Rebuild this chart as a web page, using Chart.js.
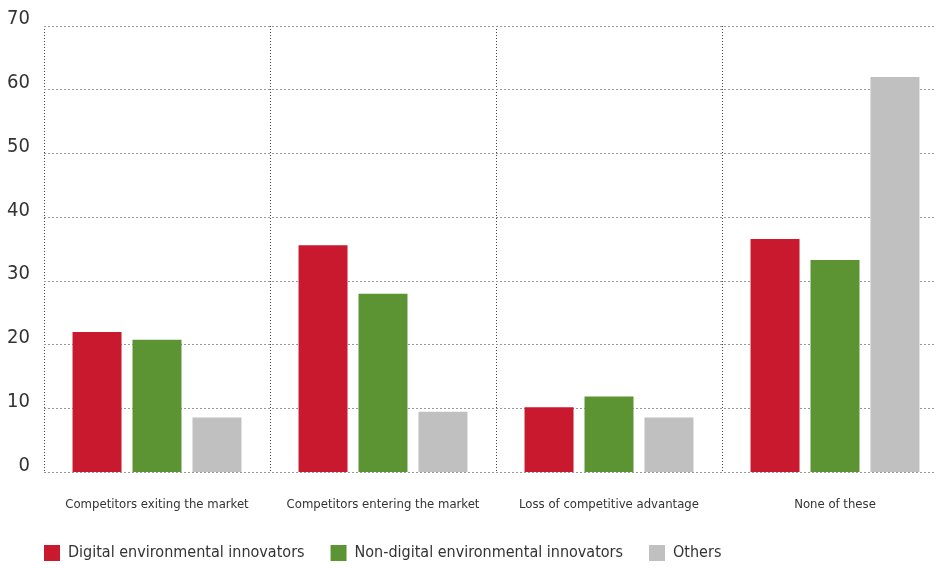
<!DOCTYPE html>
<html>
<head>
<meta charset="utf-8">
<script src="https://cdn.jsdelivr.net/npm/chart.js@4"></script>
<style>
  html, body { margin: 0; padding: 0; background: #fff; overflow: hidden; }
  #wrap { width: 936px; height: 569px; overflow: hidden; }
  #box { width: 950px; height: 592px; }
</style>
</head>
<body>
<div id="wrap"><div id="box"><canvas id="chart"></canvas></div></div>
<script>
const categories = [
  "Competitors exiting the market",
  "Competitors entering the market",
  "Loss of competitive advantage",
  "None of these"
];
const digital = [22.0, 35.6, 10.2, 36.6];
const nonDigital = [20.8, 28.0, 11.9, 33.3];
const others = [8.6, 9.5, 8.6, 62.0];
const yTicks = [0, 10, 20, 30, 40, 50, 60, 70];

const fontFamily = "'DejaVu Sans Condensed', 'DejaVu Sans', sans-serif";

// nudge the legend so it lines up with the plot's left edge and sits closer to the axis
const legendNudge = {
  id: "legendNudge",
  afterLayout(chart) {
    const lg = chart.legend;
    lg.left += 18; lg.right += 18;
    lg.top -= 17; lg.bottom -= 17;
  }
};

const ctx = document.getElementById("chart").getContext("2d");
new Chart(ctx, {
  type: "bar",
  data: {
    labels: categories,
    datasets: [
      { label: "Digital environmental innovators", data: digital, backgroundColor: "#c8192e" },
      { label: "Non-digital environmental innovators", data: nonDigital, backgroundColor: "#5c9433" },
      { label: "Others", data: others, backgroundColor: "#c0c0c0" }
    ]
  },
  options: {
    responsive: true,
    maintainAspectRatio: false,
    animation: false,
    categoryPercentage: 0.796,
    barPercentage: 0.817,
    layout: { padding: { top: 24, right: 2, left: 0, bottom: 4 } },
    plugins: {
      tooltip: { enabled: false },
      legend: {
        position: "bottom",
        align: "start",
        labels: {
          boxWidth: 16,
          boxHeight: 16,
          padding: 26,
          color: "#333",
          font: { family: fontFamily, size: 16 }
        }
      }
    },
    scales: {
      x: {
        grid: {
          offset: true,
          drawTicks: false,
          color: "#444"
        },
        border: { display: false, dash: [1, 2] },
        ticks: {
          padding: 24,
          maxRotation: 0,
          minRotation: 0,
          autoSkip: false,
          color: "#333",
          font: { family: fontFamily, size: 13 }
        }
      },
      y: {
        min: 0,
        max: 70,
        afterFit: (scale) => { scale.width = 44; },
        afterBuildTicks: (scale) => { scale.ticks = yTicks.map(v => ({ value: v })); },
        grid: { drawTicks: false, color: "#999" },
        border: { display: false, dash: [2, 2] },
        ticks: {
          padding: 14,
          labelOffset: -7,
          color: "#333",
          font: { family: fontFamily, size: 20 }
        }
      }
    }
  },
  plugins: [legendNudge]
});
</script>
</body>
</html>
